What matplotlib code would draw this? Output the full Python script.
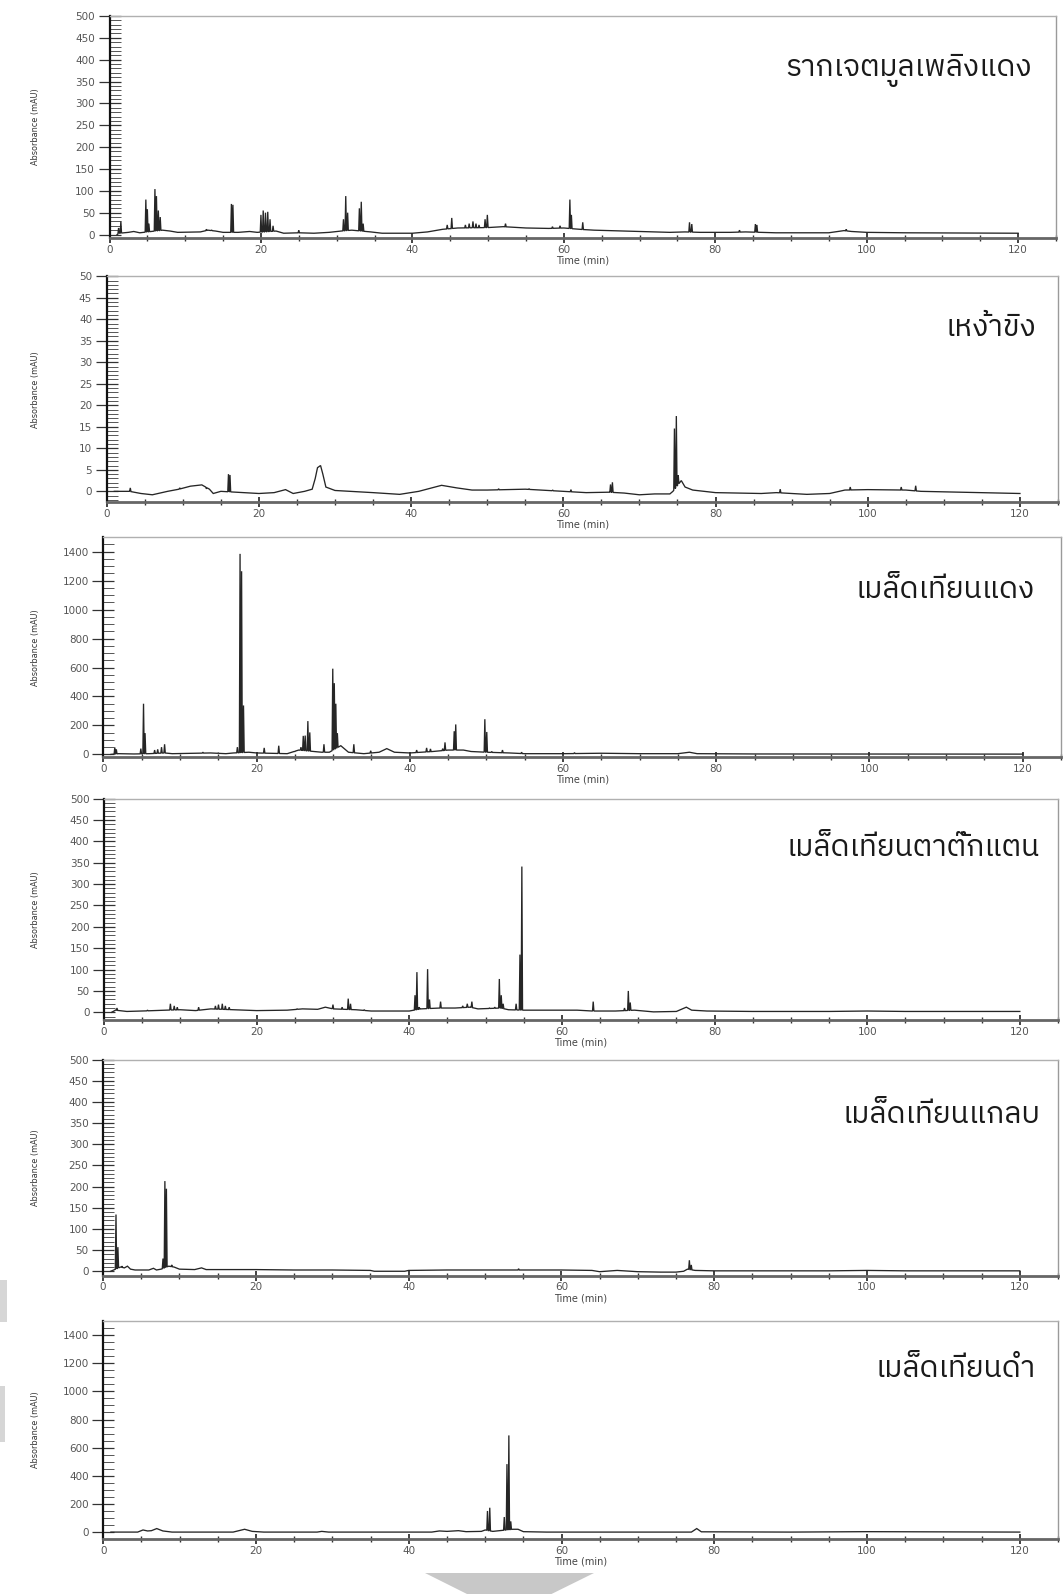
import numpy as np
import matplotlib
matplotlib.use("Agg")
import matplotlib.pyplot as plt
from matplotlib import font_manager, ft2font
from matplotlib.ticker import MultipleLocator
from matplotlib.patches import Polygon, Rectangle

# ---------------------------------------------------------------------------
# Chromatogram data: baseline knots (time in min, absorbance in mAU) and
# sharp peaks (apex time, apex absorbance) for each extract.
# ---------------------------------------------------------------------------
titles = [
    "รากเจตมูลเพลิงแดง",
    "เหง้าขิง",
    "เมล็ดเทียนแดง",
    "เมล็ดเทียนตาตั๊กแตน",
    "เมล็ดเทียนแกลบ",
    "เมล็ดเทียนดำ",
]

# 1) รากเจตมูลเพลิงแดง
p1_base_t = [1.0, 1.3, 2.5, 3.2, 4.0, 7.0, 8.0, 9.0, 12.0, 13.0, 14.0, 15.0, 17.0, 18.5, 19.5,
             22.0, 23.0, 25.0, 27.0, 29.0, 30.5, 32.0, 34.5, 36.0, 40.0, 42.0, 44.0, 46.0, 50.0,
             52.0, 55.0, 58.0, 60.0, 62.0, 64.0, 66.0, 70.0, 74.0, 76.0, 78.0, 82.0, 84.0, 88.0,
             95.0, 97.0, 98.0, 100.0, 105.0, 120.0]
p1_base_v = [0, 3, 5, 7, 4, 10, 8, 5, 6, 10, 8, 5, 5, 7, 5,
             8, 3, 4, 3, 5, 8, 10, 6, 3, 3, 6, 12, 15, 16,
             18, 15, 14, 15, 12, 10, 9, 7, 5, 6, 5, 5, 6, 4,
             4, 9, 7, 5, 4, 3]
p1_peak_t = [1.2, 1.5, 4.8, 5.0, 5.2, 6.0, 6.2, 6.45, 6.7, 12.8, 13.5, 16.1, 16.3, 20.0, 20.3,
             20.6, 20.9, 21.2, 21.6, 25.0, 30.9, 31.2, 31.45, 33.0, 33.25, 33.5, 44.6, 45.2, 47.0,
             47.5, 48.0, 48.4, 48.8, 49.6, 49.9, 52.3, 58.5, 59.5, 60.8, 61.0, 62.5, 66.5, 76.6,
             76.9, 83.2, 85.3, 85.5, 97.3]
p1_peak_h = [15, 30, 80, 58, 25, 104, 88, 55, 40, 12, 10, 70, 68, 45, 55,
             50, 52, 35, 20, 10, 35, 88, 50, 60, 75, 25, 22, 38, 22,
             25, 30, 25, 22, 35, 45, 25, 18, 20, 80, 45, 28, 9, 28,
             24, 10, 24, 22, 12]

# 2) เหง้าขิง
p2_base_t = [1.0, 3.0, 4.5, 6.0, 8.0, 9.5, 11.0, 12.5, 13.5, 14.0, 15.0, 17.0, 20.0, 22.0, 23.5,
             24.5, 26.0, 27.0, 27.4, 27.7, 28.1, 28.4, 28.8, 30.0, 35.0, 38.5, 41.0, 44.0, 46.0,
             48.0, 50.0, 55.0, 60.0, 63.0, 66.0, 68.0, 70.0, 72.0, 74.0, 74.4, 75.5, 76.0, 77.0,
             80.0, 86.0, 88.0, 92.0, 95.0, 97.0, 100.0, 105.0, 107.0, 120.0]
p2_base_v = [0, 0, -0.5, -0.8, 0, 0.5, 1.2, 1.5, 0.5, -0.5, 0, -0.2, -0.5, -0.3, 0.4,
             -0.5, 0, 0.5, 3, 5.5, 6, 4, 1, 0.2, -0.3, -0.7, 0, 1.4, 0.8,
             0.3, 0.3, 0.5, 0, -0.3, -0.2, -0.4, -0.8, -0.6, -0.6, 0, 2.5, 1.0, 0.3,
             -0.3, -0.5, -0.3, -0.7, -0.5, 0.3, 0.4, 0.3, 0, -0.5]
p2_peak_t = [3.1, 9.6, 13.1, 16.0, 16.2, 51.5, 55.5, 58.6, 61.0, 66.2, 66.45, 74.6, 74.85, 75.1,
             88.5, 97.7, 104.4, 106.3]
p2_peak_h = [0.8, 0.8, 0.6, 4.0, 3.8, 0.6, 0.6, 0.3, 0.4, 1.6, 2.1, 14.6, 17.5, 3.7,
             0.5, 1.0, 1.0, 1.3]

# 3) เมล็ดเทียนแดง
p3_base_t = [1.0, 2.0, 4.0, 6.0, 8.0, 9.0, 12.0, 14.0, 16.0, 17.0, 19.0, 20.0, 24.0, 25.5, 27.5,
             28.5, 29.5, 31.0, 32.0, 34.0, 36.0, 37.0, 38.0, 40.0, 43.0, 45.0, 47.0, 48.0, 50.0,
             53.0, 55.0, 60.0, 65.0, 70.0, 75.0, 76.5, 77.5, 85.0, 120.0]
p3_base_v = [0, 5, 3, 5, 10, 5, 8, 10, 5, 10, 15, 10, 5, 30, 20,
             15, 15, 60, 15, 5, 15, 40, 15, 10, 20, 30, 30, 20, 15,
             10, 5, 5, 8, 5, 5, 15, 5, 3, 2]
p3_peak_t = [1.5, 1.7, 4.9, 5.25, 5.45, 6.7, 7.1, 7.6, 8.0, 13.0, 15.0, 17.5, 17.85, 18.05,
             18.3, 21.0, 22.9, 25.0, 25.8, 26.1, 26.35, 26.7, 26.95, 28.8, 29.95, 30.15, 30.35,
             30.55, 32.7, 34.9, 40.9, 42.2, 42.7, 44.3, 44.6, 45.8, 46.0, 49.8, 50.05, 50.7,
             52.1, 54.6, 61.5]
p3_peak_h = [48, 35, 40, 350, 147, 30, 35, 50, 70, 15, 10, 50, 1385, 1265,
             338, 45, 60, 20, 50, 128, 130, 230, 152, 70, 592, 492, 350,
             147, 70, 25, 30, 45, 38, 40, 83, 160, 207, 243, 155, 20,
             30, 15, 12]

# 4) เมล็ดเทียนตาตั๊กแตน
p4_base_t = [1.0, 1.5, 3.0, 5.0, 8.0, 10.0, 12.0, 14.0, 17.0, 20.0, 24.0, 26.0, 28.0, 29.0, 30.0,
             33.0, 35.0, 40.0, 41.5, 44.0, 46.0, 48.0, 49.0, 52.0, 53.0, 55.0, 58.0, 62.0, 64.0,
             67.0, 69.5, 72.0, 75.0, 76.3, 77.0, 79.0, 85.0, 95.0, 100.0, 105.0, 120.0]
p4_base_v = [0, 5, 2, 3, 5, 6, 4, 8, 6, 4, 5, 8, 7, 12, 8,
             6, 3, 3, 8, 10, 10, 12, 8, 10, 6, 5, 5, 5, 3,
             3, 5, 1, 2, 12, 5, 3, 2, 2, 3, 2, 2]
p4_peak_t = [1.7, 5.7, 8.7, 9.2, 9.6, 12.4, 14.6, 15.0, 15.5, 15.9, 16.4, 25.3, 30.0, 31.2,
             32.0, 32.3, 34.1, 40.75, 41.0, 41.3, 42.4, 42.65, 44.1, 47.0, 47.6, 48.2, 50.5,
             51.2, 51.8, 52.05, 52.3, 54.0, 54.5, 54.75, 64.1, 68.2, 68.7, 68.95]
p4_peak_h = [10, 5, 20, 15, 12, 12, 15, 18, 20, 15, 12, 8, 18, 12,
             32, 20, 6, 40, 94, 12, 101, 30, 25, 15, 20, 25, 10,
             12, 78, 40, 20, 20, 135, 341, 25, 10, 50, 23]

# 5) เมล็ดเทียนแกลบ
p5_base_t = [1.0, 2.3, 2.8, 3.2, 3.6, 4.2, 6.0, 6.6, 7.0, 7.6, 8.6, 9.3, 10.0, 12.0, 12.9,
             13.5, 20.0, 25.0, 30.0, 35.0, 35.5, 39.5, 40.0, 45.0, 50.0, 55.0, 60.0, 64.0, 65.0,
             67.3, 70.0, 73.0, 75.0, 76.0, 76.5, 77.5, 80.0, 95.0, 100.0, 105.0, 120.0]
p5_base_v = [0, 10, 8, 12, 5, 3, 3, 7, 3, 5, 12, 10, 5, 4, 8,
             4, 4, 3, 3, 2, 0, 0, 2, 3, 3, 3, 3, 2, -1,
             2, -1, -2, -2, 0, 5, 2, 1, 1, 2, 1, 1]
p5_peak_t = [1.7, 1.95, 2.5, 7.85, 8.1, 8.3, 9.0, 54.4, 76.75, 77.0]
p5_peak_h = [134, 57, 12, 30, 213, 195, 15, 6, 26, 15]

# 6) เมล็ดเทียนดำ
p6_base_t = [1.0, 4.5, 5.2, 5.8, 6.3, 7.0, 7.8, 9.0, 17.0, 18.5, 19.5, 21.0, 28.0, 28.6, 29.5,
             43.0, 44.0, 45.0, 46.5, 47.5, 49.5, 50.0, 51.0, 53.6, 54.3, 55.0, 58.0, 77.0, 77.7,
             78.3, 90.0, 100.0, 120.0]
p6_base_v = [0, 0, 15, 8, 10, 25, 8, 0, 0, 20, 5, 0, 0, 5, 0,
             0, 8, 5, 10, 3, 5, 15, 5, 20, 20, 3, 0, 0, 25,
             2, 0, 3, 0]
p6_peak_t = [50.3, 50.6, 52.5, 52.85, 53.1, 53.35, 54.1]
p6_peak_h = [150, 173, 107, 483, 687, 76, 20]

y_limits = [(-7, 500), (-2.5, 50), (-20, 1500), (-18, 500), (-10, 500), (-47, 1500)]
y_major = [50, 5, 200, 50, 50, 200]
y_minor = [10, 1, 50, 10, 10, 50]
y_top_label = [500, 50, 1400, 500, 500, 1400]
x_ticks = [0, 20, 40, 60, 80, 100, 120]

series = [
    (p1_base_t, p1_base_v, p1_peak_t, p1_peak_h),
    (p2_base_t, p2_base_v, p2_peak_t, p2_peak_h),
    (p3_base_t, p3_base_v, p3_peak_t, p3_peak_h),
    (p4_base_t, p4_base_v, p4_peak_t, p4_peak_h),
    (p5_base_t, p5_base_v, p5_peak_t, p5_peak_h),
    (p6_base_t, p6_base_v, p6_peak_t, p6_peak_h),
]

# ---------------------------------------------------------------------------
# Layout (pixel boxes of each plot area: left, right, top, bottom)
# ---------------------------------------------------------------------------
W, H = 1064, 1594
boxes = [
    (109.5, 1056, 16.0, 237.6),
    (106.7, 1058, 276.2, 502.1),
    (103.3, 1061, 537.2, 757.3),
    (104.0, 1058, 798.6, 1020.0),
    (103.0, 1058, 1059.6, 1275.5),
    (103.3, 1058, 1321.0, 1538.7),
]
title_pos = [(1032, 76), (1036, 336), (1035, 598), (1040, 856), (1040, 1123), (1036, 1377)]

SPIKE_HW = 0.09  # half width of a sharp peak, minutes


def pick_thai_family():
    preferred, others = [], []
    for entry in font_manager.fontManager.ttflist:
        try:
            cmap = ft2font.FT2Font(entry.fname).get_charmap()
        except Exception:
            continue
        if 0x0E01 in cmap and 0x0E40 in cmap and 0x0E49 in cmap:
            if "Thai" in entry.name and "Looped" not in entry.name:
                preferred.append(entry.name)
            else:
                others.append(entry.name)
    for group in (preferred, others):
        if group:
            return sorted(group)[0]
    return None


def build_trace(bt, bv, pt, ph):
    bt = np.asarray(bt, float)
    bv = np.asarray(bv, float)
    pt = np.asarray(pt, float)
    keep = np.ones(len(bt), bool)
    for t in pt:
        keep &= ~((bt > t - SPIKE_HW) & (bt < t + SPIKE_HW))
    ts = list(bt[keep])
    vs = list(bv[keep])
    for t, h in zip(pt, ph):
        lo, hi = t - SPIKE_HW, t + SPIKE_HW
        ts += [lo, t, hi]
        vs += [np.interp(lo, bt, bv), h, np.interp(hi, bt, bv)]
    order = np.argsort(ts, kind="stable")
    return np.asarray(ts)[order], np.asarray(vs)[order]


thai = pick_thai_family()
title_family = [thai, "DejaVu Sans"] if thai else ["DejaVu Sans"]

plt.rcParams["font.family"] = ["DejaVu Sans"]
fig = plt.figure(figsize=(W / 100, H / 100), dpi=100)
fig.patch.set_facecolor("white")

for i, (box, data) in enumerate(zip(boxes, series)):
    x0, x1, yt, yb = box
    ax = fig.add_axes([x0 / W, 1 - yb / H, (x1 - x0) / W, (yb - yt) / H])
    t, v = build_trace(*data)
    ax.plot(t, v, color="#262626", lw=0.95, solid_joinstyle="miter")

    ax.set_xlim(0, 125)
    ax.set_ylim(*y_limits[i])

    ax.xaxis.set_major_locator(MultipleLocator(20))
    ax.xaxis.set_minor_locator(MultipleLocator(5))
    ax.set_xticks(x_ticks)
    ax.set_xticklabels([str(x) for x in x_ticks])
    ax.yaxis.set_major_locator(MultipleLocator(y_major[i]))
    ax.yaxis.set_minor_locator(MultipleLocator(y_minor[i]))
    yt_vals = np.arange(0, y_top_label[i] + 1e-9, y_major[i])
    ax.set_yticks(yt_vals)
    ax.set_yticklabels([f"{int(round(y))}" for y in yt_vals])

    ax.tick_params(axis="x", which="major", direction="inout", length=7, width=1.2,
                   color="#222222", labelsize=7.5, labelcolor="#555555", pad=1.5)
    ax.tick_params(axis="x", which="minor", direction="inout", length=4, width=1.0,
                   color="#333333")
    ax.tick_params(axis="y", which="major", direction="inout", length=16, width=0.9,
                   color="#333333", labelsize=7.5, labelcolor="#555555", pad=2.5)
    ax.tick_params(axis="y", which="minor", direction="in", length=8, width=0.7,
                   color="#555555")

    ax.spines["left"].set_color("#111111")
    ax.spines["left"].set_linewidth(1.6)
    ax.spines["bottom"].set_color("#666666")
    ax.spines["bottom"].set_linewidth(2.0)
    ax.spines["top"].set_color("#b0b0b0")
    ax.spines["top"].set_linewidth(1.0)
    ax.spines["right"].set_color("#9a9a9a")
    ax.spines["right"].set_linewidth(1.0)

    ax.set_ylabel("Absorbance (mAU)", fontsize=6.5, color="#333333", stretch="condensed")
    ax.yaxis.set_label_coords((40 - x0) / (x1 - x0), 0.5)
    ax.set_xlabel("Time (min)", fontsize=7, color="#444444", labelpad=0.5)

    tx, ty = title_pos[i]
    fig.text(tx / W, 1 - ty / H, titles[i], ha="right", va="baseline",
             fontsize=21.5, color="#1a1a1a", family=title_family)

# Grey down arrow below the last chromatogram and slide remnants on the left edge
fig.patches.append(Polygon([(425 / W, 1 - 1573 / H), (594 / W, 1 - 1573 / H),
                            (509 / W, 1 - 1615 / H)], closed=True,
                           transform=fig.transFigure, facecolor="#c8c8c8",
                           edgecolor="none"))
fig.patches.append(Rectangle((0, 1 - 1322 / H), 7 / W, 42 / H, transform=fig.transFigure,
                             facecolor="#d6d6d6", edgecolor="none"))
fig.patches.append(Rectangle((0, 1 - 1442 / H), 5 / W, 56 / H, transform=fig.transFigure,
                             facecolor="#d6d6d6", edgecolor="none"))

fig.savefig("out.png", dpi=100, facecolor="white")
